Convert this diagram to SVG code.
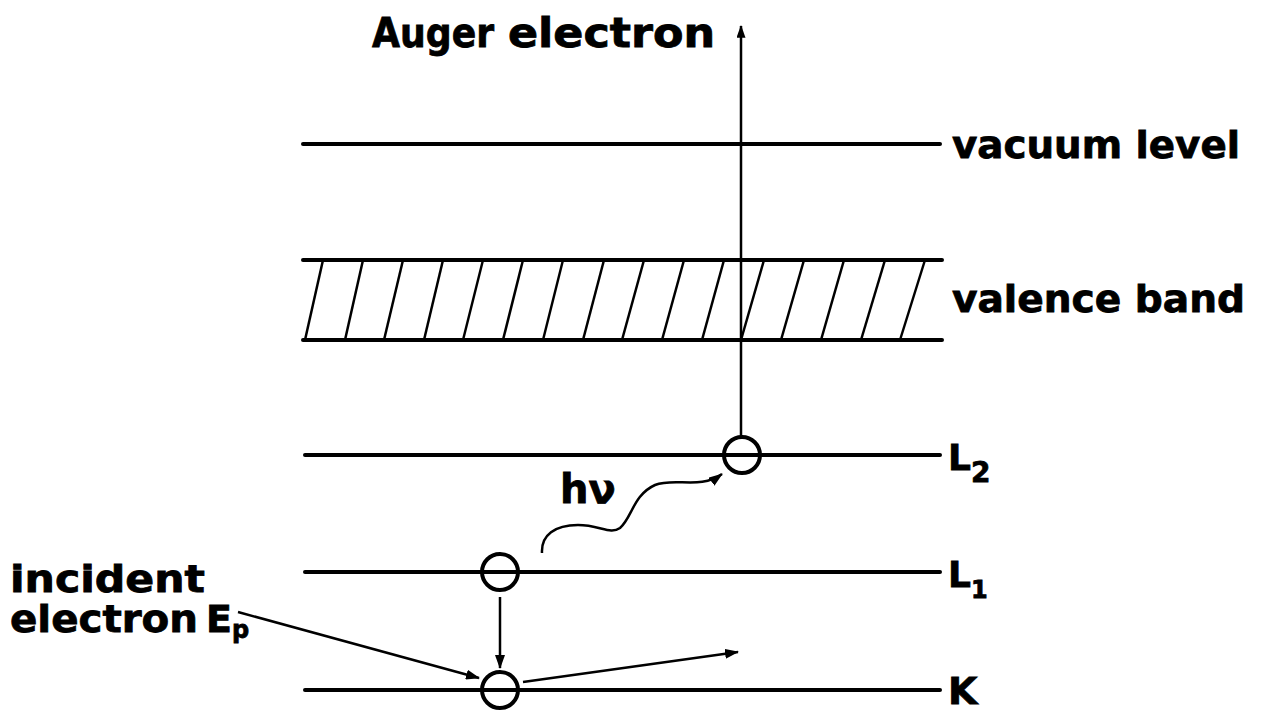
<svg xmlns="http://www.w3.org/2000/svg" width="1267" height="712" viewBox="0 0 1267 712">
<defs>
<marker id="ah" viewBox="0 0 14 10" refX="13" refY="5" markerWidth="14" markerHeight="10" markerUnits="userSpaceOnUse" orient="auto">
<path d="M0,0 L14,5 L0,10 Z" fill="#000"/>
</marker>
<marker id="ahs" viewBox="0 0 14 10" refX="13" refY="5" markerWidth="14" markerHeight="9" markerUnits="userSpaceOnUse" orient="auto">
<path d="M0,0 L14,5 L0,10 Z" fill="#000"/>
</marker>
</defs>
<style>
.lv{stroke:#000;stroke-width:4;fill:none;stroke-linecap:round}
.ht{stroke:#000;stroke-width:2.5;fill:none}
.ar{stroke:#000;stroke-width:2.5;fill:none}
.el{stroke:#000;stroke-width:4;fill:none}
.t{font-family:"DejaVu Sans",sans-serif;font-weight:bold;fill:#000;stroke:#000;stroke-width:0.8}
</style>
<rect width="1267" height="712" fill="#fff"/>
<g id="vacuum">
<line class="lv" x1="303" y1="144" x2="940" y2="144"/>
<text class="t" x="952" y="158" font-size="38" textLength="288" lengthAdjust="spacingAndGlyphs">vacuum level</text>
</g>
<g id="valence">
<line class="lv" x1="303" y1="260" x2="942" y2="260"/>
<line class="lv" x1="303" y1="340" x2="942" y2="340"/>
<g class="ht">
<line x1="323" y1="260" x2="305" y2="340"/>
<line x1="363" y1="260" x2="345" y2="340"/>
<line x1="403" y1="260" x2="384" y2="340"/>
<line x1="443" y1="260" x2="424" y2="340"/>
<line x1="483" y1="260" x2="463" y2="340"/>
<line x1="523" y1="260" x2="503" y2="340"/>
<line x1="563" y1="260" x2="543" y2="340"/>
<line x1="604" y1="260" x2="583" y2="340"/>
<line x1="644" y1="260" x2="622" y2="340"/>
<line x1="684" y1="260" x2="662" y2="340"/>
<line x1="724" y1="260" x2="702" y2="340"/>
<line x1="764" y1="260" x2="741" y2="340"/>
<line x1="804" y1="260" x2="781" y2="340"/>
<line x1="844" y1="260" x2="821" y2="340"/>
<line x1="885" y1="260" x2="861" y2="340"/>
<line x1="925" y1="260" x2="900" y2="340"/>
</g>
<text class="t" x="952" y="312" font-size="38" textLength="293" lengthAdjust="spacingAndGlyphs">valence band</text>
</g>
<g id="L2">
<line class="lv" x1="305" y1="455" x2="940" y2="455"/>
<circle class="el" cx="742" cy="455" r="18"/>
<text class="t" x="948" y="470" font-size="36">L<tspan font-size="28" dy="12">2</tspan></text>
</g>
<g id="L1">
<line class="lv" x1="305" y1="572" x2="940" y2="572"/>
<circle class="el" cx="500" cy="572" r="18"/>
<text class="t" x="948" y="587" font-size="36">L<tspan font-size="24" dy="11">1</tspan></text>
</g>
<g id="K">
<line class="lv" x1="305" y1="690" x2="940" y2="690"/>
<circle class="el" cx="500" cy="690" r="18"/>
<text class="t" x="948" y="704" font-size="38">K</text>
</g>
<g id="auger-label">
<text class="t" x="372" y="47" font-size="40"><tspan textLength="122" lengthAdjust="spacingAndGlyphs">Auger</tspan><tspan x="508" textLength="207" lengthAdjust="spacingAndGlyphs">electron</tspan></text>
</g>
<g id="incident-label">
<text class="t" x="10" y="592" font-size="38" textLength="195" lengthAdjust="spacingAndGlyphs">incident</text>
<text class="t" x="10" y="632" font-size="38"><tspan textLength="188" lengthAdjust="spacingAndGlyphs">electron</tspan><tspan x="206">E</tspan><tspan font-size="24" dy="6">p</tspan></text>
</g>
<g id="hv-label">
<text class="t" x="560" y="503" font-size="40">hν</text>
</g>
<g id="connectors">
<line class="ar" x1="741" y1="437" x2="741" y2="26" marker-end="url(#ahs)"/>
<line class="ar" x1="500" y1="597" x2="500" y2="668" marker-end="url(#ah)"/>
<line class="ar" x1="238" y1="612" x2="479" y2="678" marker-end="url(#ah)"/>
<line class="ar" x1="523" y1="682" x2="738" y2="652" marker-end="url(#ah)"/>
<path class="ar" stroke-width="3" d="M542,553 C541,535 555,525 578,525 C600,525 610,535 620,528 C632,518 633,495 655,485 C675,477 700,490 722,474" marker-end="url(#ah)"/>
</g>
</svg>
